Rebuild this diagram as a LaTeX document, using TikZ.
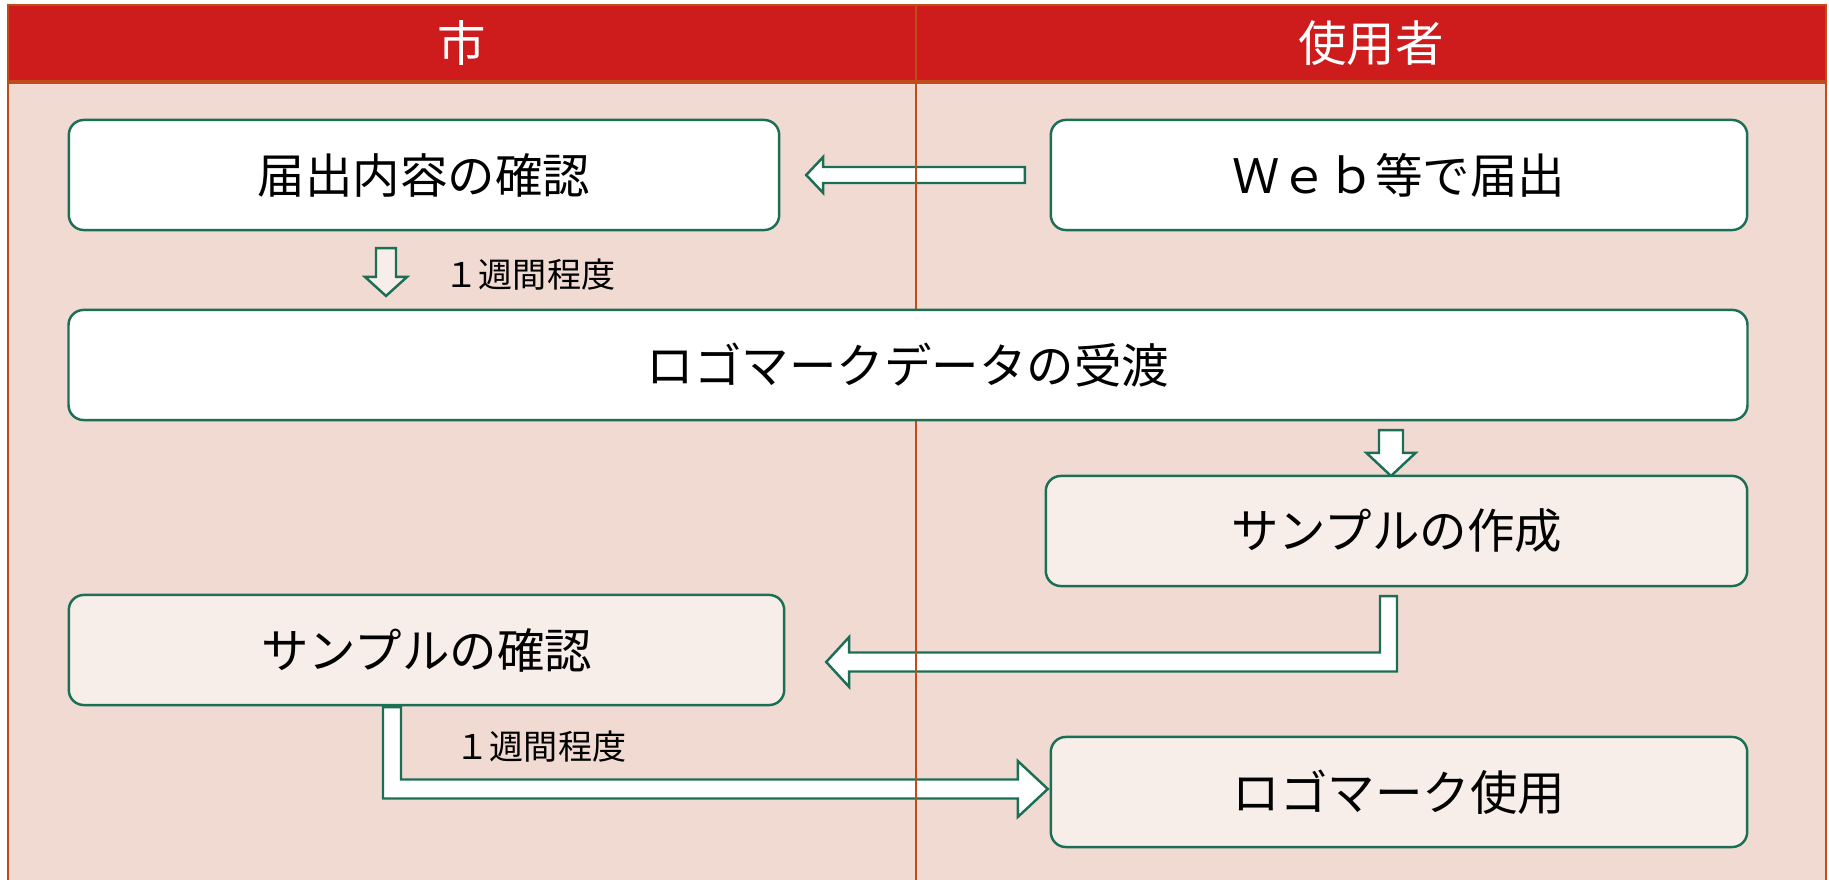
\documentclass[tikz,border=0pt]{standalone}
\usepackage{fontspec}
\setmainfont{Noto Sans CJK JP}
\usetikzlibrary{calc}
\definecolor{lanered}{HTML}{CE1B1B}
\definecolor{laneline}{HTML}{C04B1B}
\definecolor{laneback}{HTML}{F0DAD2}
\definecolor{boxpale}{HTML}{F8EEE9}
\definecolor{boxline}{HTML}{1B6F54}
\pgfdeclarelayer{bg}
\pgfdeclarelayer{arr}
\pgfdeclarelayer{lines}
\pgfsetlayers{bg,arr,lines,main}

\begin{document}
\begin{tikzpicture}[x=0.01cm, y=-0.01cm,
	box/.style = {draw=boxline, line width=.7pt, rounded corners=.15cm, fill=white, minimum height=1.1cm, inner sep=0, outer sep=0, font=\fontsize{13.5}{16}\selectfont},
	palebox/.style = {box, fill=boxpale},
	blockarrow/.style = {draw=boxline, line width=.7pt, fill=white, line join=miter},
	lbl/.style = {font=\fontsize{9.7}{12}\selectfont},
	lanehead/.style = {text=white, font=\fontsize{13.8}{16}\selectfont}]
	\useasboundingbox (0,0) rectangle (1829,880);
	\begin{pgfonlayer}{bg}
		\fill[laneback] (8,82) rectangle (1826,880);
		\fill[lanered] (8,5) rectangle (1826,82);
	\end{pgfonlayer}
	\begin{pgfonlayer}{lines}
		\draw[laneline, line width=.6pt] (8,880) -- (8,5) -- (1826,5) -- (1826,880);
		\draw[laneline, line width=.6pt] (916,5) -- (916,880);
		\draw[laneline, line width=1.4pt] (8,82) -- (1826,82);
	\end{pgfonlayer}
	\node[lanehead] (city) at (462,43) {市};
	\node[lanehead] (user) at (1371,43) {使用者};

	\node[box, minimum width=7.1cm] (check) at (424,175) {届出内容の確認};
	\node[box, minimum width=6.96cm] (web) at (1399,175) {Ｗｅｂ等で届出};
	\node[box, minimum width=16.78cm] (data) at (908,365) {ロゴマークデータの受渡};
	\node[palebox, minimum width=7.01cm] (make) at (1396.5,531) {サンプルの作成};
	\node[palebox, minimum width=7.15cm] (sample) at (426.5,650) {サンプルの確認};
	\node[palebox, minimum width=6.96cm] (use) at (1399,792) {ロゴマーク使用};
	\node[lbl] (week1) at (530,275) {１週間程度};
	\node[lbl] (week2) at (541,747) {１週間程度};

	\coordinate (l1) at ($(web.west)+(-26,0)$);
	\coordinate (l1t) at ($(check.east)+(27,0)$);
	\coordinate (d1) at ($(check.south)+(-38,18)$);
	\coordinate (d1t) at ($(d1 |- data.north)+(0,-14)$);
	\coordinate (d2) at ($(data.south)+(483,10)$);
	\coordinate (d2t) at (d2 |- make.north);
	\coordinate (b1) at ($(make.south)+(-8,10)$);
	\coordinate (b1t) at ($(sample.east)+(42,12)$);
	\coordinate (b2) at ($(sample.south)+(-34.5,2)$);
	\coordinate (b2t) at ($(use.west)+(-3,-3)$);

	\begin{pgfonlayer}{arr}
		\draw[blockarrow] ($(l1)+(0,-8)$) -- ($(l1t)+(17,-8)$) -- ++(0,-10) -- (l1t) -- ($(l1t)+(17,18)$) -- ++(0,-10) -- ($(l1)+(0,8)$) -- cycle;
		\draw[blockarrow, fill=boxpale] ($(d1)+(-10,0)$) -- ($(d1t)+(-10,-19)$) -- ++(-11,0) -- (d1t) -- ($(d1t)+(21,-19)$) -- ++(-11,0) -- ($(d1)+(10,0)$) -- cycle;
		\draw[blockarrow] ($(d2)+(-12,0)$) -- ($(d2t)+(-12,-23)$) -- ++(-12.5,0) -- (d2t) -- ($(d2t)+(24.5,-23)$) -- ++(-12.5,0) -- ($(d2)+(12,0)$) -- cycle;
		\draw[blockarrow] ($(b1)+(-8.5,0)$) |- ($(b1t)+(23,-9.5)$) -- ++(0,-15.5) -- (b1t) -- ($(b1t)+(23,25)$) -- ++(0,-15.5) -| ($(b1)+(8.5,0)$) -- cycle;
		\draw[blockarrow] ($(b2)+(-9,0)$) |- ($(b2t)+(-30,9.5)$) -- ++(0,18.5) -- (b2t) -- ($(b2t)+(-30,-28)$) -- ++(0,18.5) -| ($(b2)+(9,0)$) -- cycle;
	\end{pgfonlayer}
\end{tikzpicture}
\end{document}
